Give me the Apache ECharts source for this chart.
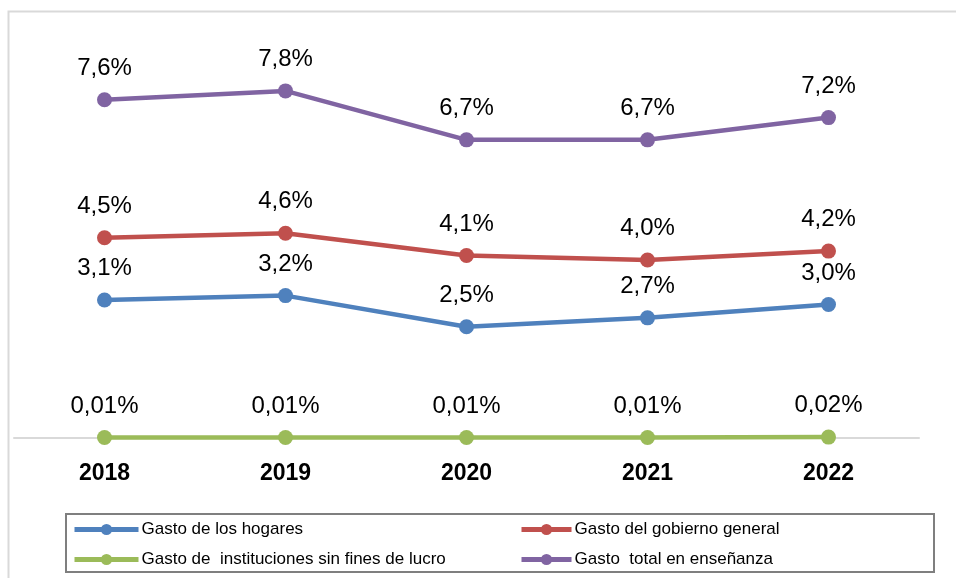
<!DOCTYPE html>
<html>
<head>
<meta charset="utf-8">
<script src="https://cdn.jsdelivr.net/npm/echarts@6/dist/echarts.min.js"></script>
<style>
  html, body { margin: 0; padding: 0; background: #fff; }
  #chart { width: 956px; height: 578px; }
</style>
</head>
<body>
<div id="chart"></div>
<script>
const years = ['2018', '2019', '2020', '2021', '2022'];

const hogares = [3.1, 3.2, 2.5, 2.7, 3.0];
const gobierno = [4.5, 4.6, 4.1, 4.0, 4.2];
const sinFines = [0.01, 0.01, 0.01, 0.01, 0.02];
const total = [7.6, 7.8, 6.7, 6.7, 7.2];

const names = [
  'Gasto de los hogares',
  'Gasto del gobierno general',
  'Gasto de  instituciones sin fines de lucro',
  'Gasto  total en enseñanza'
];
const colors = ['#4F81BD', '#C0504D', '#9BBB59', '#8064A2'];

const chart = echarts.init(document.getElementById('chart'));

const fontFamily = '"Liberation Sans", Arial, sans-serif';

function pct(decimals) {
  return p => p.value.toFixed(decimals).replace('.', ',') + '%';
}

function makeSeries(name, data, color, decimals) {
  return {
    name: name,
    type: 'line',
    data: data,
    symbol: 'circle',
    symbolSize: 15,
    lineStyle: { width: 4.5, color: color },
    itemStyle: { color: color },
    label: {
      show: true,
      position: 'top',
      distance: 12,
      color: '#000',
      fontSize: 24,
      fontFamily: fontFamily,
      formatter: pct(decimals)
    },
    emphasis: { disabled: true },
    animation: false
  };
}

const legendText = { fontSize: 17, fontFamily: fontFamily, color: '#000', padding: [0, 0, 0, -2] };

const option = {
  backgroundColor: '#fff',
  graphic: [
    {
      type: 'rect',
      shape: { x: 8.5, y: 11.5, width: 1000, height: 700 },
      style: { fill: 'none', stroke: '#d9d9d9', lineWidth: 2 },
      silent: true
    },
    {
      type: 'rect',
      shape: { x: 66, y: 514, width: 868, height: 58 },
      style: { fill: 'none', stroke: '#7f7f7f', lineWidth: 2 },
      silent: true
    }
  ],
  grid: {
    left: 14,
    right: 37,
    top: 37.5,
    bottom: 140
  },
  legend: [
    {
      orient: 'vertical',
      left: 67,
      top: 516,
      itemGap: 13,
      itemWidth: 64,
      itemHeight: 14,
      lineStyle: { width: 5 },
      data: [names[0], names[2]],
      textStyle: legendText,
      selectedMode: false
    },
    {
      orient: 'vertical',
      left: 514,
      top: 516,
      itemGap: 13,
      itemWidth: 50,
      itemHeight: 14,
      lineStyle: { width: 5 },
      data: [names[1], names[3]],
      textStyle: legendText,
      selectedMode: false
    }
  ],
  xAxis: {
    type: 'category',
    data: years,
    boundaryGap: true,
    axisLine: { lineStyle: { color: '#d9d9d9', width: 2 } },
    axisTick: { show: false },
    axisLabel: {
      color: '#000',
      fontSize: 23,
      fontWeight: 'bold',
      fontFamily: fontFamily,
      margin: 24
    }
  },
  yAxis: {
    type: 'value',
    min: 0,
    max: 9,
    show: false,
    splitLine: { show: false }
  },
  series: [
    makeSeries(names[0], hogares, colors[0], 1),
    makeSeries(names[1], gobierno, colors[1], 1),
    makeSeries(names[2], sinFines, colors[2], 2),
    makeSeries(names[3], total, colors[3], 1)
  ]
};

chart.setOption(option);
</script>
</body>
</html>
